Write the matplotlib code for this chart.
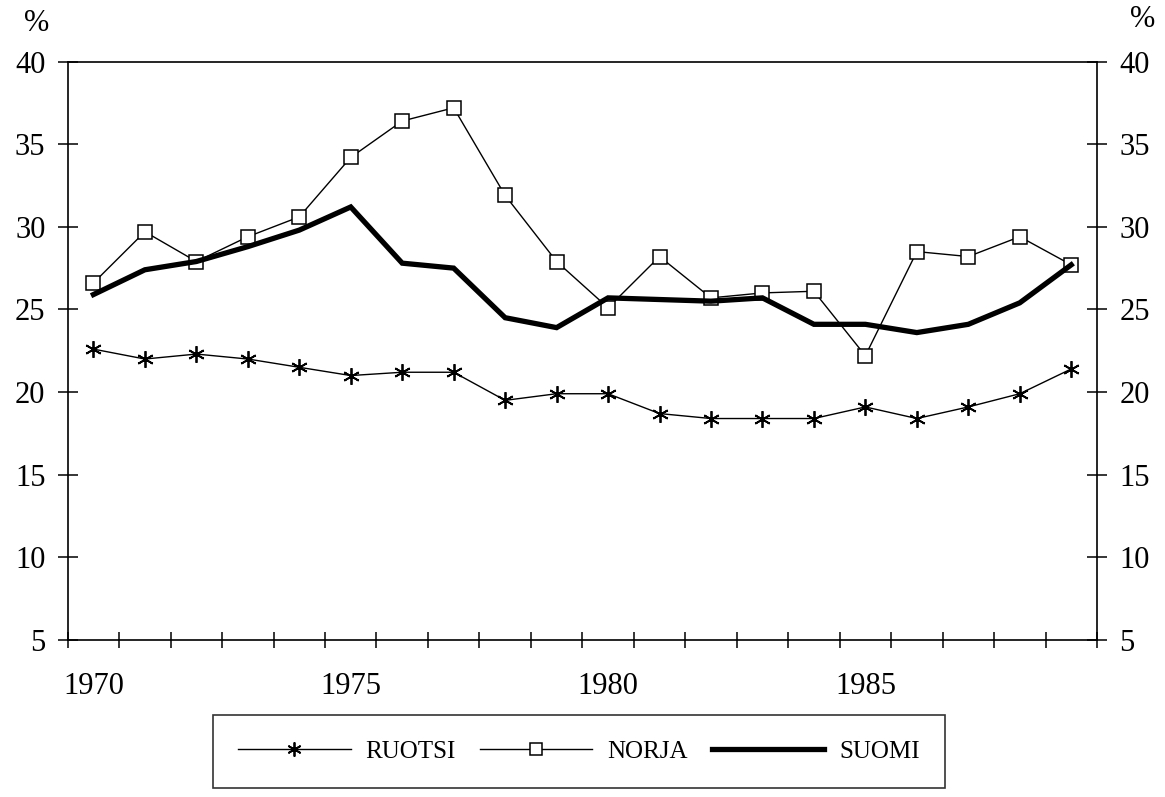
import numpy as np
import matplotlib
matplotlib.use('Agg')
import matplotlib.pyplot as plt

# vuodet ja osuudet (%)
years = list(range(1970, 1990))
ruotsi = [22.6, 22.0, 22.3, 22.0, 21.5, 21.0, 21.2, 21.2, 19.5, 19.9,
          19.9, 18.7, 18.4, 18.4, 18.4, 19.1, 18.4, 19.1, 19.9, 21.4]
norja = [26.6, 29.7, 27.9, 29.4, 30.6, 34.2, 36.4, 37.2, 31.9, 27.9,
         25.1, 28.2, 25.7, 26.0, 26.1, 22.2, 28.5, 28.2, 29.4, 27.7]
suomi = [25.9, 27.4, 27.9, 28.8, 29.8, 31.2, 27.8, 27.5, 24.5, 23.9,
         25.7, 25.6, 25.5, 25.7, 24.1, 24.1, 23.6, 24.1, 25.4, 27.7]

year_labels = [1970, 1975, 1980, 1985]
y_ticks = [5, 10, 15, 20, 25, 30, 35, 40]

plt.rcParams['font.family'] = ['Liberation Serif', 'DejaVu Serif']

fig = plt.figure(figsize=(11.65, 7.97), dpi=100)
ax = fig.add_axes([0.0581, 0.197, 0.8835, 0.7258])

ax.plot(years, ruotsi, color='black', lw=1.0, marker=(6, 2, 0),
        markersize=12, markeredgewidth=1.3, label='RUOTSI', zorder=3)
ax.plot(years, norja, color='black', lw=1.0, marker='s', markersize=10.5,
        markerfacecolor='white', markeredgecolor='black',
        markeredgewidth=1.1, label='NORJA', zorder=4)
ax.plot(years, suomi, color='black', lw=3.8, solid_joinstyle='miter',
        label='SUOMI', zorder=5)

ax.set_xlim(years[0] - 0.5, years[-1] + 0.5)
ax.set_ylim(5, 40)

# x-akseli: tekstit vuosien kohdalla, viivat vuosien välissä
ax.set_xticks(year_labels)
ax.set_xticklabels([str(y) for y in year_labels])
ax.set_xticks(np.arange(years[0] - 0.5, years[-1] + 1.0, 1.0), minor=True)
ax.tick_params(axis='x', which='major', length=0, pad=23, labelsize=22)
ax.tick_params(axis='x', which='minor', direction='inout', length=12,
               width=1.1)

ax.set_yticks(y_ticks)
ax.tick_params(axis='y', which='major', direction='inout', length=14,
               width=1.1, pad=9, labelsize=22, left=True, right=True,
               labelleft=True, labelright=True)

for s in ax.spines.values():
    s.set_linewidth(1.2)

fig.text(0.0313, 0.970, '%', fontsize=22, ha='center', va='center')
fig.text(0.9811, 0.975, '%', fontsize=22, ha='center', va='center')

leg = fig.legend(loc='center', bbox_to_anchor=(0.183, 0.009, 0.628, 0.096),
                 mode='expand', ncol=3, frameon=True, fancybox=False,
                 edgecolor='black', fontsize=18, handlelength=4.5,
                 handletextpad=0.6, columnspacing=0.8, borderpad=1.0,
                 borderaxespad=0.0, markerscale=0.85)
leg.get_frame().set_linewidth(1.2)

plt.savefig('out.png', dpi=100)
plt.close()
